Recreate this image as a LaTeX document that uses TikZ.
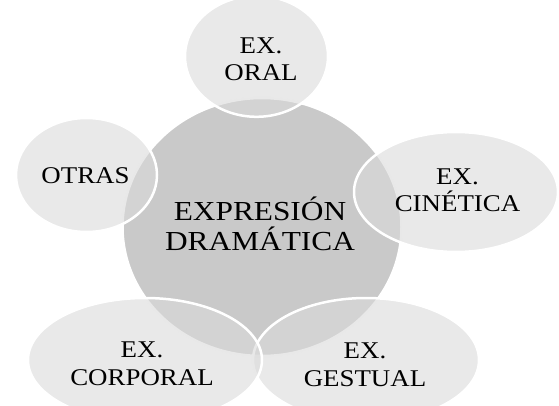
\documentclass[tikz,border=0pt]{standalone}
\usepackage{fontspec}
\setmainfont{Liberation Serif}
\newfontfamily\labelfont[FakeStretch=1.12]{Liberation Serif}
\newfontfamily\mainlabelfont[FakeStretch=1.14]{Liberation Serif}
\usetikzlibrary{shapes.geometric}
\definecolor{centralgray}{RGB}{201,201,201}
\definecolor{satgray}{RGB}{218,218,218}
\begin{document}
\begin{tikzpicture}[x=1pt,y=-1pt,
  centralshape/.style={ellipse, draw=white, line width=2.5pt, fill=centralgray, inner sep=0pt},
  satshape/.style={ellipse, draw=white, line width=2.5pt, fill=satgray, fill opacity=0.6, draw opacity=1, inner sep=0pt},
  satlabel/.style={align=center, inner sep=0pt, text=black, font=\labelfont\fontsize{24}{27.7}\selectfont},
  mainlabel/.style={align=center, inner sep=0pt, text=black, font=\mainlabelfont\fontsize{27.5}{30}\selectfont}]
\useasboundingbox (0,0) rectangle (559,406);
\clip (0,0) rectangle (559,406);
% shapes
\node[centralshape, minimum width=279pt, minimum height=258pt] (c) at (262,227) {};
\node[satshape, minimum width=143pt, minimum height=121pt] (oral) at (256.5,56.3) {};
\node[satshape, minimum width=204pt, minimum height=120pt] (cine) at (456,192) {};
\node[satshape, minimum width=226pt, minimum height=124pt] (gest) at (366,360) {};
\node[satshape, minimum width=234pt, minimum height=124pt] (corp) at (145,360) {};
\node[satshape, minimum width=141pt, minimum height=114pt] (otras) at (86.5,175) {};
% labels
\node[mainlabel] (ct) at (260,224.3) {EXPRESIÓN\\DRAMÁTICA};
\node[satlabel] (oralt) at (261,59.2) {EX.\\ORAL};
\node[satlabel] (cinet) at (457.5,190.3) {EX.\\CINÉTICA};
\node[satlabel] (gestt) at (365,364.5) {EX.\\GESTUAL};
\node[satlabel] (corpt) at (142,364) {EX.\\CORPORAL};
\node[satlabel] (otrast) at (85.5,175.5) {OTRAS};
\end{tikzpicture}
\end{document}
